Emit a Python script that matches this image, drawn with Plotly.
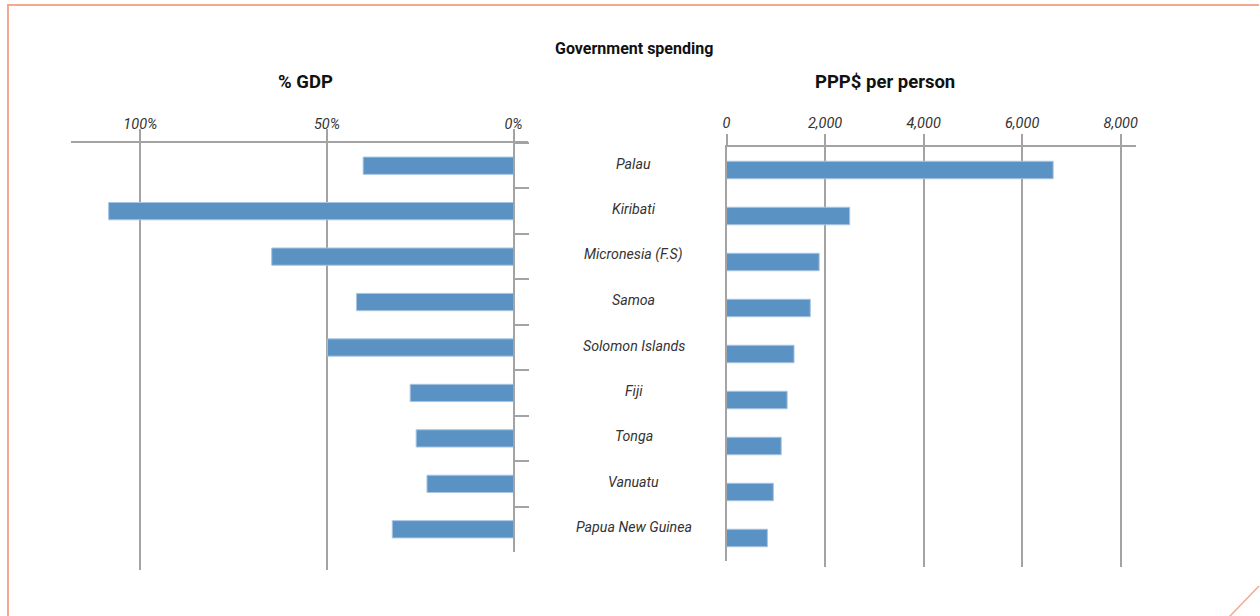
import plotly.graph_objects as go

# ---- data ----
countries = ["Palau", "Kiribati", "Micronesia (F.S)", "Samoa", "Solomon Islands",
             "Fiji", "Tonga", "Vanuatu", "Papua New Guinea"]
pct_gdp = [40.3, 108.5, 64.8, 42.1, 49.9, 27.7, 26.1, 23.2, 32.5]
ppp_per_person = [6630, 2500, 1880, 1700, 1370, 1230, 1110, 950, 830]

gdp_tickvals = [0, 50, 100]
gdp_ticktext = ["0%", "50%", "100%"]
ppp_tickvals = [0, 2000, 4000, 6000, 8000]
ppp_ticktext = ["0", "2,000", "4,000", "6,000", "8,000"]

title_main = "Government spending"
title_left = "% GDP"
title_right = "PPP$ per person"

# ---- style ----
W, H = 1260, 616
BAR = "#5b92c4"
BAR_EDGE = "#a8c5e2"
GRID = "#a3a3a3"
TXT = "#333333"
FONT = "Roboto"


def px_x(p):
    return p / W


def px_y(p):
    return 1 - p / H


left_dom = [px_x(67), px_x(527)]
right_dom = [px_x(726), px_x(1137)]
left_range = [118.67, -4]
right_range = [0, 8303]

fig = go.Figure()

# grid subplots (drawn first, underneath)
fig.add_trace(go.Scatter(x=[], y=[], xaxis="x", yaxis="y", showlegend=False, hoverinfo="skip"))
fig.add_trace(go.Scatter(x=[], y=[], xaxis="x2", yaxis="y2", showlegend=False, hoverinfo="skip"))

# bars
fig.add_trace(go.Bar(x=pct_gdp, y=countries, orientation="h", xaxis="x3", yaxis="y3",
                     marker=dict(color=BAR, line=dict(color=BAR_EDGE, width=1)),
                     width=0.38, showlegend=False, hoverinfo="skip"))
fig.add_trace(go.Bar(x=ppp_per_person, y=countries, orientation="h", xaxis="x4", yaxis="y4",
                     marker=dict(color=BAR, line=dict(color=BAR_EDGE, width=1)),
                     width=0.38, showlegend=False, hoverinfo="skip"))

tickfont = dict(family=FONT, size=14.5, color=TXT, style="italic")

layout = dict(
    width=W, height=H,
    margin=dict(l=0, r=0, t=0, b=0),
    paper_bgcolor="white",
    plot_bgcolor="rgba(0,0,0,0)",
    showlegend=False,
    hovermode=False,
    # left grid
    xaxis=dict(domain=left_dom, range=left_range, anchor="y", tickvals=[50, 100],
               showgrid=True, gridcolor=GRID, gridwidth=1.5, showticklabels=False,
               ticks="", showline=False, zeroline=False, fixedrange=True),
    yaxis=dict(domain=[px_y(570), px_y(143)], range=[0, 1], anchor="x", visible=False,
               showgrid=False, fixedrange=True),
    # right grid
    xaxis2=dict(domain=right_dom, range=right_range, anchor="y2", tickvals=[2000, 4000, 6000, 8000],
                showgrid=True, gridcolor=GRID, gridwidth=1.5, showticklabels=False,
                ticks="", showline=False, zeroline=False, fixedrange=True),
    yaxis2=dict(domain=[px_y(567), px_y(147)], range=[0, 1], anchor="x2", visible=False,
                showgrid=False, fixedrange=True),
    # left bars
    xaxis3=dict(domain=left_dom, range=left_range, anchor="y3", side="top",
                tickvals=gdp_tickvals, ticktext=gdp_ticktext, tickfont=tickfont,
                ticks="outside", ticklen=12, tickwidth=1.5, tickcolor=GRID,
                ticklabelstandoff=-6,
                showline=True, linecolor=GRID, linewidth=1.5,
                showgrid=False, zeroline=False, fixedrange=True),
    yaxis3=dict(domain=[px_y(552), px_y(143)], type="category",
                categoryorder="array", categoryarray=countries, range=[8.5, -0.5],
                anchor="free", position=px_x(512), side="right",
                ticks="outside", tickson="boundaries", ticklen=15, tickwidth=1.5, tickcolor=GRID,
                showticklabels=False, showline=True, linecolor=GRID, linewidth=1.5,
                showgrid=False, zeroline=False, fixedrange=True),
    # right bars
    xaxis4=dict(domain=right_dom, range=right_range, anchor="y4", side="top",
                tickvals=ppp_tickvals, ticktext=ppp_ticktext, tickfont=tickfont,
                ticks="outside", ticklen=11, tickwidth=1.5, tickcolor=GRID,
                showline=True, linecolor=GRID, linewidth=1.5,
                showgrid=False, zeroline=False, fixedrange=True),
    yaxis4=dict(domain=[px_y(561), px_y(147)], type="category",
                categoryorder="array", categoryarray=countries, range=[8.5, -0.5],
                anchor="x4", side="left", ticks="", showticklabels=False,
                showline=True, linecolor=GRID, linewidth=1.5,
                showgrid=False, zeroline=False, fixedrange=True),
)
fig.update_layout(**layout)

annotations = [
    dict(text=f"<b>{title_main}</b>", x=px_x(633), y=px_y(48), xref="paper", yref="paper",
         xanchor="center", yanchor="middle",
         showarrow=False, font=dict(family=FONT, size=16, color="#111111")),
    dict(text=f"<b>{title_left}</b>", x=px_x(303), y=px_y(82), xref="paper", yref="paper",
         xanchor="center", yanchor="middle",
         showarrow=False, font=dict(family=FONT, size=18.5, color="#111111")),
    dict(text=f"<b>{title_right}</b>", x=px_x(885), y=px_y(82), xref="paper", yref="paper",
         xanchor="center", yanchor="middle",
         showarrow=False, font=dict(family=FONT, size=18.5, color="#111111")),
]
for c in countries:
    annotations.append(dict(text=c, x=px_x(633), y=c, xref="paper", yref="y3",
                            xanchor="center", yanchor="middle",
                            showarrow=False, yshift=2,
                            font=dict(family=FONT, size=14.2, color=TXT, style="italic")))
fig.update_layout(annotations=annotations)

# decorative frame
BORDER = "#f4a88f"
fig.update_layout(shapes=[
    dict(type="path", xref="paper", yref="paper",
         path=f"M {px_x(4)} {px_y(617)} L {px_x(4)} {px_y(5)} L {px_x(1261)} {px_y(5)}",
         line=dict(color=BORDER, width=2)),
    dict(type="line", xref="paper", yref="paper",
         x0=px_x(1231), y0=px_y(617), x1=px_x(1261), y1=px_y(586),
         line=dict(color=BORDER, width=1.5)),
])

fig.write_html("out.html", config={"displayModeBar": False},
               post_script="document.body.style.margin='0px';")
